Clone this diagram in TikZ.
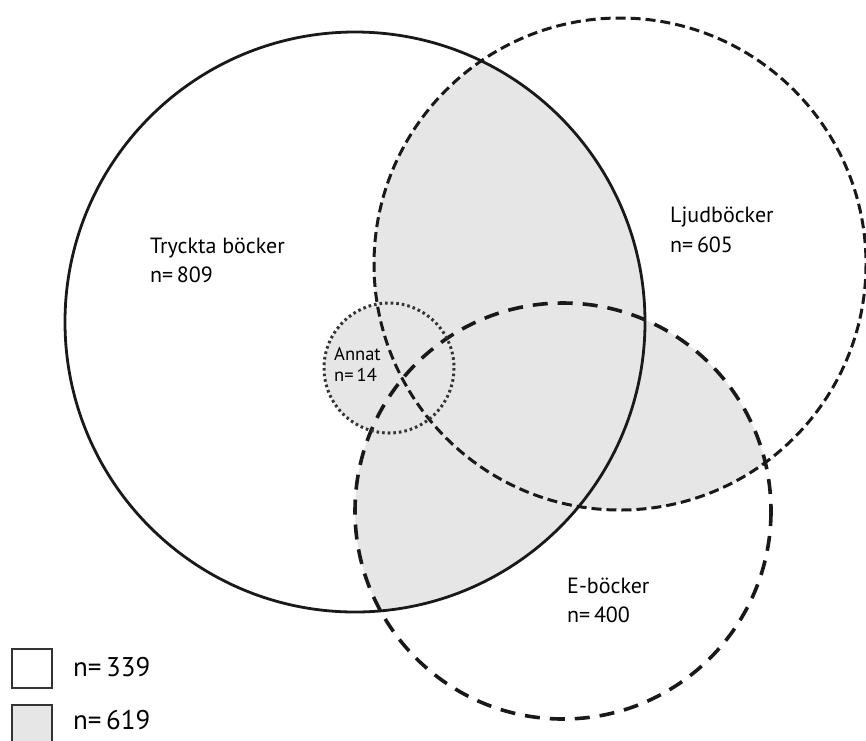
\documentclass[tikz,border=0pt]{standalone}
\usepackage{fontspec}
\setmainfont{PT Sans}
\begin{document}
\begin{tikzpicture}[x=1pt,y=-1pt,
  lbl/.style={anchor=base west,inner sep=0pt,font=\fontsize{22}{26}\selectfont,align=left},
  smalllbl/.style={anchor=base west,inner sep=0pt,font=\fontsize{18.5}{22}\selectfont},
  leglbl/.style={anchor=base west,inner sep=0pt,font=\fontsize{27}{32}\selectfont},
  solidring/.style={draw=black!90,line width=2.8pt},
  ljudring/.style={draw=black!90,line width=3pt,dash pattern=on 10pt off 5pt},
  ering/.style={draw=black!90,line width=3.6pt,dash pattern=on 15pt off 10pt},
  annatring/.style={draw=black!80,line width=3pt,dash pattern=on 2.6pt off 3pt},
  legbox/.style={draw=black!80,line width=1.2pt,minimum width=40pt,minimum height=39pt,inner sep=0pt}]
\definecolor{vennfill}{HTML}{E6E6E6}
\useasboundingbox (0,0) rectangle (866,740);
\coordinate (T) at (355,322);
\coordinate (L) at (620,264);
\coordinate (E) at (563,511);
\coordinate (A) at (389,368);
% shaded overlaps
\begin{scope}
  \clip (T) circle (290);
  \fill[vennfill] (L) circle (246);
  \fill[vennfill] (E) circle (208);
\end{scope}
\begin{scope}
  \clip (L) circle (246);
  \fill[vennfill] (E) circle (208);
\end{scope}
\fill[vennfill] (A) circle (65);
% rings
\draw[solidring] (T) circle (290);
\draw[ljudring] (L) circle (246);
\draw[ering] (E) circle (208);
\draw[annatring] (A) circle (65);
% labels
\node[lbl] (tl) at (150,253) {Tryckta böcker};
\node[lbl] (tn) at (150,282) {n=\,809};
\node[lbl] (ll) at (670,222) {Ljudböcker};
\node[lbl] (ln) at (670,252) {n=\,605};
\node[lbl] (el) at (567,593) {E-böcker};
\node[lbl] (en) at (567,622) {n=\,400};
\node[smalllbl] (al) at (334,360) {Annat};
\node[smalllbl] (an) at (334,381) {n=\,14};
% legend
\node[legbox,fill=white] (b1) at (32,668.5) {};
\node[legbox,fill=vennfill] (b2) at (32,724.5) {};
\node[leglbl] (l1) at (73,676) {n=\,339};
\node[leglbl] (l2) at (73,729) {n=\,619};
\end{tikzpicture}
\end{document}
